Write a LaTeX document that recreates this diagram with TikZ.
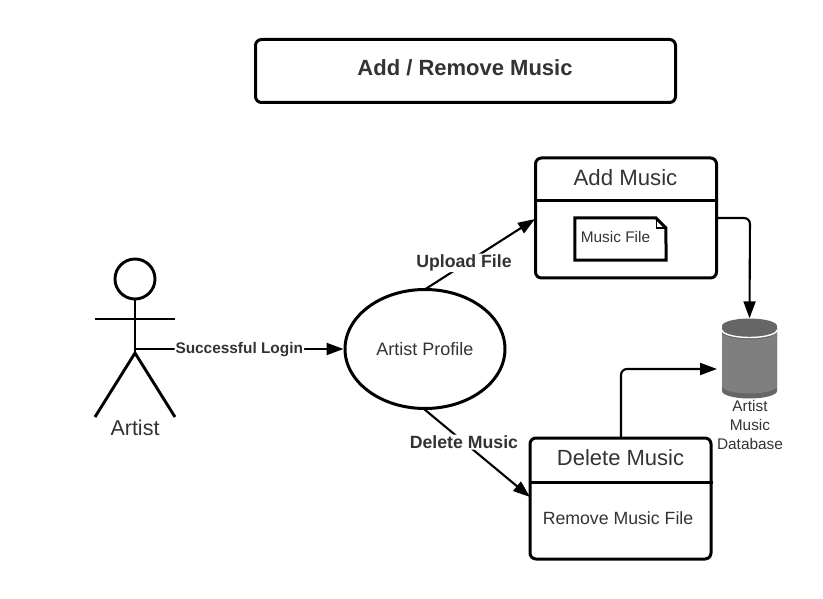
\documentclass[tikz,border=0pt]{standalone}
\usepackage{fontspec}
\setmainfont{Liberation Sans}
\usetikzlibrary{arrows.meta,shapes.geometric}
\definecolor{txt}{HTML}{333333}
\definecolor{dbgrey}{HTML}{7F7F7F}
\definecolor{dbdark}{HTML}{666666}
\tikzset{
  box/.style={draw, line width=3pt, rounded corners=6pt, inner sep=0pt},
  flow/.style={draw, line width=2.1pt, rounded corners=6pt, -{Triangle[length=17pt,width=12pt]}},
  flowlabel/.style={fill=white, font=\fontsize{17.7}{20}\selectfont\bfseries, text=txt, inner sep=1pt},
  plain/.style={text=txt, inner sep=0pt, align=center},
  limb/.style={line width=2.9pt}
}
\begin{document}
\begin{tikzpicture}[x=1pt,y=-1pt]
  \useasboundingbox (0,0) rectangle (823,599);

  \node[box, minimum width=420pt, minimum height=63pt] (title) at (465.5,71) {};
  \node[plain, font=\fontsize{22}{24}\selectfont\bfseries] (titletext) at (465,68) {Add / Remove Music};

  % actor
  \node[draw, circle, line width=2.9pt, minimum size=40pt, inner sep=0pt] (head) at (135,279) {};
  \coordinate (hip) at (135,353);
  \coordinate (hand1) at (95,319);
  \coordinate (hand2) at (175,319);
  \coordinate (foot1) at (95,417);
  \coordinate (foot2) at (175,417);
  \coordinate (waist) at (135,349);
  \draw[limb] (head) -- (hip);
  \draw[limb] (hand1) -- (hand2);
  \draw[limb] (foot1) -- (hip) -- (foot2);
  \node[plain, font=\fontsize{21.5}{24}\selectfont] (artist) at (135,428) {Artist};

  \node[draw, ellipse, line width=3pt, minimum width=160pt, minimum height=119pt, inner sep=0pt, text=txt, font=\fontsize{18}{20}\selectfont] (profile) at (425,349) {Artist Profile};

  % add music
  \node[box, minimum width=181pt, minimum height=120pt] (add) at (626,218) {};
  \draw[line width=3pt] (add.west |- 0,201) -- (add.east |- 0,201);
  \node[plain, font=\fontsize{22.2}{24}\selectfont] (addtitle) at (625.5,178) {Add Music};
  \node[inner sep=0pt, minimum width=91pt, minimum height=42pt] (file) at (620.5,239) {};
  \draw[line width=3pt, line join=miter] (file.north west) -- ++(81,0) -- ++(10,10) -- (file.south east) -- (file.south west) -- cycle;
  \draw[line width=1.8pt] (656.5,218) -- ++(0,10) -- ++(10,0);
  \node[plain, font=\fontsize{15.4}{18}\selectfont] (filetext) at (615.5,237) {Music File};

  % delete music
  \node[box, minimum width=181pt, minimum height=121pt] (del) at (620.5,498.5) {};
  \draw[line width=3pt] (del.west |- 0,482) -- (del.east |- 0,482);
  \node[plain, font=\fontsize{22}{24}\selectfont] (deltitle) at (620.5,458) {Delete Music};
  \node[plain, font=\fontsize{17.7}{20}\selectfont] (deltext) at (618,518) {Remove Music File};

  % database
  \node[inner sep=0pt, minimum width=55pt, minimum height=80pt] (db) at (749.5,358.5) {};
  \fill[dbdark] (722,326) arc[x radius=27.5, y radius=7.5, start angle=180, end angle=360] -- (777,391) arc[x radius=27.5, y radius=7.5, start angle=0, end angle=180] -- cycle;
  \fill[dbgrey] (722,332) arc[x radius=27.5, y radius=7.5, start angle=180, end angle=0] -- (777,386) arc[x radius=27.5, y radius=7.5, start angle=0, end angle=180] -- cycle;
  \draw[white, line width=1.4pt] (722,330) arc[x radius=27.5, y radius=7.5, start angle=180, end angle=0];
  \node[plain, font=\fontsize{15.4}{19}\selectfont] (dbtext) at (750,425) {Artist\\Music\\Database};

  \coordinate (dbin) at (717,369);
  \coordinate (addout) at (717,218);
  \coordinate (delout) at (621,438);
  \coordinate (bend1) at (750,218);
  \coordinate (bend2) at (621,369);
  \coordinate (upfrom) at (424,290);
  \coordinate (upto) at (535,219);
  \coordinate (dfrom) at (424,409);
  \coordinate (dto) at (530,497);

  \draw[flow] (waist) -- (profile.west) node[flowlabel, pos=.5, yshift=-1pt] (login) {\fontsize{15.4}{18}\selectfont Successful Login};
  \draw[flow] (upfrom) -- (upto) node[flowlabel, pos=.36, yshift=1.5pt] (upload) {Upload File};
  \draw[flow] (dfrom) -- (dto) node[flowlabel, pos=.377] (delete) {Delete Music};
  \draw[flow] (addout) -- (bend1) -- (db.north);
  \draw[flow] (delout) -- (bend2) -- (dbin);
\end{tikzpicture}
\end{document}
